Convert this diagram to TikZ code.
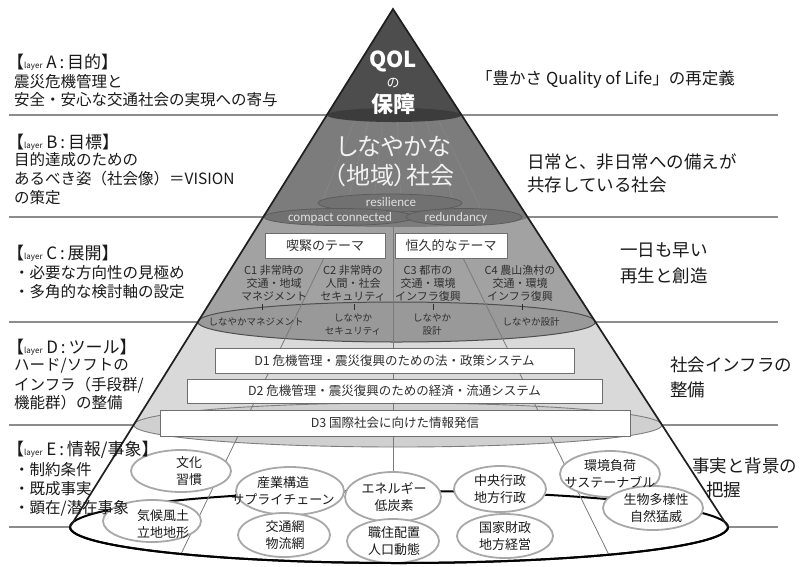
\documentclass[tikz,border=0pt]{standalone}
\usepackage{fontspec}
\setmainfont{Noto Sans CJK JP}
\newfontfamily\jpp{Noto Sans CJK JP}[RawFeature=+palt]
\newfontfamily\carl{Carlito}
\usetikzlibrary{shapes.geometric}
\definecolor{sepc}{HTML}{8C8C8C}
\definecolor{txtc}{HTML}{1A1A1A}
\definecolor{ctc}{HTML}{2E2E2E}
\definecolor{zoneA}{HTML}{4D4D4D}
\definecolor{ellA}{HTML}{3C3C3C}
\definecolor{zoneB}{HTML}{7C7C7C}
\definecolor{bellf}{HTML}{717171}
\definecolor{belld}{HTML}{5C5C5C}
\definecolor{zoneC}{HTML}{A2A2A2}
\definecolor{ellC}{HTML}{999999}
\definecolor{ellCl}{HTML}{4E4E4E}
\definecolor{zoneD}{HTML}{D9D9D9}
\definecolor{ellD}{HTML}{D0D0D0}
\definecolor{ellDl}{HTML}{7E7E7E}
\definecolor{divc}{HTML}{7A7A7A}
\definecolor{boxc}{HTML}{6E6E6E}
\definecolor{ec}{HTML}{A8A8A8}
\definecolor{fanc}{HTML}{8A8A8A}
\newcommand{\lay}{\fontsize{8}{8}\selectfont}
\tikzset{
  sep/.style={draw=sepc, line width=1.3pt},
  ltxt/.style={anchor=west, inner sep=0pt, text=txtc, font=\fontsize{15.5}{18}\selectfont},
  lhd/.style={anchor=west, inner sep=0pt, text=txtc, font=\fontsize{17}{20}\selectfont},
  rtxt/.style={anchor=west, inner sep=0pt, text=txtc, font=\fontsize{17.5}{20}\selectfont},
  ctxt/.style={align=center, inner sep=0pt, text=ctc, font=\fontsize{11}{13}\selectfont},
  stxt/.style={align=center, inner sep=0pt, text=ctc, font=\fontsize{9.5}{13}\selectfont},
  tbox/.style={draw=boxc, fill=white, line width=0.8pt, inner sep=0pt, minimum height=25pt, text=ctc, font=\fontsize{13}{14}\selectfont},
  dbox/.style={draw=boxc, fill=white, line width=0.8pt, inner sep=0pt, minimum height=25pt, text=ctc, font=\fontsize{12.5}{14}\selectfont},
  eshape/.style={ellipse, draw=ec, fill=white, line width=1.8pt, inner sep=0pt},
  etxt/.style={align=center, inner sep=0pt, text=txtc, font=\fontsize{13}{17}\selectfont},
  divl/.style={draw=divc, line width=0.8pt},
  tick/.style={draw=ctc, line width=0.6pt},
  conedge/.style={draw=black!88, line width=1.7pt, line join=miter},
  baserim/.style={draw=black, line width=2pt},
  bell/.style={fill=bellf, draw=belld, line width=0.8pt},
  fan/.style={draw=fanc, line width=0.4pt},
  btxt/.style={inner sep=0pt, text=white!95!black, font=\jpp\fontsize{24}{26}\selectfont},
  rtx/.style={inner sep=0pt, text=white!88!black, font=\carl\fontsize{13}{14}\selectfont},
  atxt/.style={inner sep=0pt, text=white, font=\fontsize{22}{24}\selectfont\bfseries},
}
\begin{document}
\begin{tikzpicture}[x=1pt,y=-1pt]
\useasboundingbox (0,0) rectangle (801,566);
\fill[white] (0,0) rectangle (801,566);
% separator lines
\foreach \yy in {115,217,322,425,527} \draw[sep] (9,\yy) -- (778,\yy);
% layer E (base)
\fill[white] (393,9) -- (70,527) -- (728,527) -- cycle;
\fill[white] (399,527) ellipse [x radius=329, y radius=36];
\draw[baserim] (399,527) ellipse [x radius=329, y radius=36];
% layer D
\fill[zoneD] (393,9) -- (133.6,425) -- (662,425) -- cycle;
\filldraw[fill=ellD, draw=ellDl, line width=0.9pt] (397.8,425) ellipse [x radius=264.2, y radius=22];
% layer C
\fill[zoneC] (393,9) -- (197.8,322) -- (595.4,322) -- cycle;
\filldraw[fill=ellC, draw=ellCl, line width=1pt] (396.6,322) ellipse [x radius=198.8, y radius=20];
% layer B
\fill[zoneB] (393,9) -- (263.3,217) -- (527.5,217) -- cycle;
\fill[zoneB] (395.4,217) ellipse [x radius=132.1, y radius=10];
\foreach \f in {-0.62,-0.4,-0.18,0.05,0.27,0.5,0.7}
  \draw[fan] ({394+\f*64},121) -- ({395+\f*122},208);
\filldraw[bell] (390,203) ellipse [x radius=72, y radius=9];
\filldraw[bell] (339,217) ellipse [x radius=75, y radius=8.5];
\filldraw[bell] (464,217) ellipse [x radius=58, y radius=8.5];
% layer A
\fill[zoneA] (393,9) -- (326.9,115) -- (461.5,115) -- cycle;
\fill[ellA] (394.2,115) ellipse [x radius=67.3, y radius=7];
% dividers
\draw[divl] (393,224) -- (393,563);
\draw[divl] (324,258) -- (181,554);
\draw[divl] (463,258) -- (609,555);
% theme boxes
\node[tbox, minimum width=120pt] (t1) at (325,245.5) {喫緊のテーマ};
\node[tbox, minimum width=112pt] (t2) at (451,245.5) {恒久的なテーマ};
% D boxes
\node[dbox, minimum width=359pt] (d1) at (394.5,360.5) {D1 危機管理・震災復興のための法・政策システム};
\node[dbox, minimum width=415pt, minimum height=24pt] (d2) at (394.5,391) {D2 危機管理・震災復興のための経済・流通システム};
\node[dbox, minimum width=470pt, minimum height=26pt] (d3) at (395,423) {D3 国際社会に向けた情報発信};
% E nodes
\node[eshape, minimum width=100pt, minimum height=42pt] (e1) at (181,471) {};
\node[eshape, minimum width=98pt, minimum height=42pt] (e2) at (152,521) {};
\node[eshape, minimum width=108pt, minimum height=48pt] (e3) at (290,491) {};
\node[eshape, minimum width=96pt, minimum height=50pt] (e4) at (393,497) {};
\node[eshape, minimum width=92pt, minimum height=46pt] (e5) at (500,489) {};
\node[eshape, minimum width=100pt, minimum height=46pt] (e6) at (610,474) {};
\node[eshape, minimum width=100pt, minimum height=44pt] (e7) at (653,508) {};
\node[eshape, minimum width=92pt, minimum height=44pt] (e8) at (284,535) {};
\node[eshape, minimum width=92pt, minimum height=44pt] (e9) at (393,541) {};
\node[eshape, minimum width=96pt, minimum height=44pt] (e10) at (505,536) {};
\node[etxt] (e1t) at (189,471) {文化\\習慣};
\node[etxt] (e2t) at (163,524) {気候風土\\立地地形};
\node[etxt] (e3t) at (283,491) {産業構造\\サプライチェーン};
\node[etxt] (e4t) at (394,497) {エネルギー\\低炭素};
\node[etxt] (e5t) at (500,489) {中央行政\\地方行政};
\node[etxt] (e6t) at (610,474) {環境負荷\\サステーナブル};
\node[etxt] (e7t) at (656,508) {生物多様性\\自然猛威};
\node[etxt] (e8t) at (285,535) {交通網\\物流網};
\node[etxt] (e9t) at (394,541) {職住配置\\人口動態};
\node[etxt] (e10t) at (505,536) {国家財政\\地方経営};
% front rim again
\begin{scope}
\clip (0,527) rectangle (801,566);
\draw[baserim] (399,527) ellipse [x radius=329, y radius=36];
\end{scope}
% cone edges
\draw[conedge] (70,527) -- (393,9) -- (728,527);
% C texts
\node[ctxt] (c1) at (274,283) {C1 非常時の\\交通・地域\\マネジメント};
\node[ctxt] (c2) at (353,283) {C2 非常時の\\人間・社会\\セキュリティ};
\node[ctxt] (c3) at (428,283) {C3 都市の\\交通・環境\\インフラ復興};
\node[ctxt] (c4) at (520,283) {C4 農山漁村の\\交通・環境\\インフラ復興};
\node[stxt] (s1) at (256,322) {しなやかマネジメント};
\node[stxt] (s2) at (353,325) {しなやか\\セキュリティ};
\node[stxt] (s3) at (432,325) {しなやか\\設計};
\node[stxt] (s4) at (531,322) {しなやか設計};
\coordinate (k1a) at (262,304); \coordinate (k1b) at (262,310);
\coordinate (k2a) at (354,304); \coordinate (k2b) at (354,310);
\coordinate (k3a) at (433,304); \coordinate (k3b) at (433,310);
\coordinate (k4a) at (522,304); \coordinate (k4b) at (522,310);
\draw[tick] (k1a) -- (k1b);
\draw[tick] (k2a) -- (k2b);
\draw[tick] (k3a) -- (k3b);
\draw[tick] (k4a) -- (k4b);
% B texts
\node[btxt] (b1) at (394,146) {しなやかな};
\node[btxt] (b2) at (394,175) {（地域）社会};
\node[rtx] (res) at (391,202) {resilience};
\node[rtx] (cc) at (340,218) {compact connected};
\node[rtx] (rd) at (456,218) {redundancy};
% A texts
\node[atxt] (qol) at (393,61) {QOL};
\node[inner sep=0pt, text=white, font=\fontsize{13}{14}\selectfont] (no) at (393,83) {の};
\node[atxt] (hosho) at (393,104) {保障};
% left column
\node[lhd] (la0) at (7,62) {【{\lay layer} A\,:\,目的】};
\node[ltxt] (la1) at (14,82) {震災危機管理と};
\node[ltxt] (la2) at (14,100) {安全・安心な交通社会の実現への寄与};
\node[lhd] (lb0) at (7,142) {【{\lay layer} B\,:\,目標】};
\node[ltxt] (lb1) at (14,160) {目的達成のための};
\node[ltxt] (lb2) at (14,179) {あるべき姿（社会像）＝VISION};
\node[ltxt] (lb3) at (14,198) {の策定};
\node[lhd] (lc0) at (7,253) {【{\lay layer} C\,:\,展開】};
\node[ltxt] (lc1) at (14,273) {・必要な方向性の見極め};
\node[ltxt] (lc2) at (14,292) {・多角的な検討軸の設定};
\node[lhd] (ld0) at (7,347) {【{\lay layer} D\,:\,ツール】};
\node[ltxt] (ld1) at (14,366) {ハード/ソフトの};
\node[ltxt] (ld2) at (14,385) {インフラ（手段群/};
\node[ltxt] (ld3) at (14,403) {機能群）の整備};
\node[lhd] (le0) at (7,450) {【{\lay layer} E\,:\,情報/事象】};
\node[ltxt] (le1) at (14,470) {・制約条件};
\node[ltxt] (le2) at (14,489) {・既成事実};
\node[ltxt] (le3) at (14,508) {・顕在/潜在事象};
% right column
\node[rtxt, font=\fontsize{16.5}{20}\selectfont] (r1) at (476,79) {「豊かさ\hspace{4pt}Quality of Life」の再定義};
\node[rtxt] (r2a) at (527,162) {日常と、非日常への備えが};
\node[rtxt] (r2b) at (527,185) {共存している社会};
\node[rtxt] (r3a) at (620,250) {一日も早い};
\node[rtxt] (r3b) at (620,276) {再生と創造};
\node[rtxt] (r4a) at (670,365) {社会インフラの};
\node[rtxt] (r4b) at (670,390) {整備};
\node[rtxt] (r5a) at (692,466) {事実と背景の};
\node[rtxt] (r5b) at (706,490) {把握};
\end{tikzpicture}
\end{document}
